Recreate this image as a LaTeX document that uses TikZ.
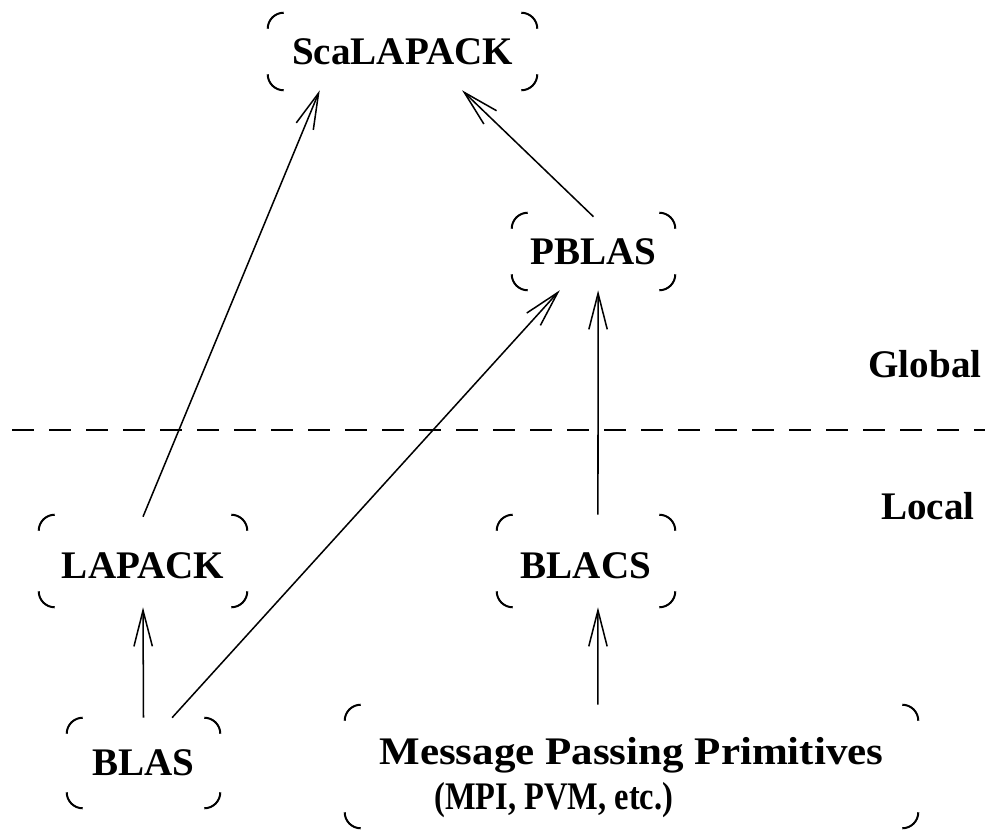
\documentclass[tikz,border=0pt]{standalone}
\usepackage{fontspec}
\setmainfont{Liberation Serif}
\usetikzlibrary{arrows.meta,calc}
\newcommand\bigfont{\fontsize{27.8pt}{33pt}\selectfont\bfseries}
\begin{document}
\begin{tikzpicture}[x=0.25mm,y=-0.25mm,
  box/.style={rectangle, inner sep=0pt, font=\bigfont},
  lbl/.style={inner sep=0pt, font=\bigfont},
  conn/.style={line width=0.38mm, -{Straight Barb[length=9mm,width=4.6mm,line width=0.38mm]}},
  corner/.style={line width=0.5mm, rounded corners=4mm},
  divider/.style={line width=0.5mm, dash pattern=on 5.5mm off 3.75mm}]
\useasboundingbox (0,0) rectangle (985,830);

\node[box, minimum width=67.25mm, minimum height=19.25mm] (sca) at (402.5,51.5) {ScaLAPACK};
\node[box, minimum width=40.75mm, minimum height=19.25mm] (pblas) at (593.5,251.5) {PBLAS};
\node[box, minimum width=52mm, minimum height=23mm] (lapack) at (143,561) {\rule{0pt}{25.4pt}LAPACK};
\node[box, minimum width=44.5mm, minimum height=23mm] (blacs) at (586,561) {\rule{0pt}{25.4pt}BLACS};
\node[box, minimum width=38.25mm, minimum height=22.5mm] (blas) at (143.5,763) {BLAS};
\node[box, minimum width=143.25mm, minimum height=30.75mm, align=left] (msg) at (631.5,766.5)
  {\rule{0pt}{35pt}\scalebox{1.1}[1]{Message Passing Primitives}\\[-1pt]\hspace*{13.75mm}\scalebox{0.83}[1]{(MPI, PVM, etc.)}};

\node[lbl] (global) at (925,364) {Global};
\node[lbl] (local) at (928,506) {Local};

\coordinate (dl) at (12,430);
\coordinate (dr) at (985,430);
\draw[divider] (dl) -- (dr);

\foreach \n in {sca,pblas,lapack,blacs,blas,msg} {
  \draw[corner] ([yshift=-4mm]\n.north west) |- ([xshift=4mm]\n.north west);
  \draw[corner] ([xshift=-4mm]\n.north east) -| ([yshift=-4mm]\n.north east);
  \draw[corner] ([yshift=4mm]\n.south west) |- ([xshift=4mm]\n.south west);
  \draw[corner] ([xshift=-4mm]\n.south east) -| ([yshift=4mm]\n.south east);
}

\draw[conn] ([yshift=-0.5mm]lapack.north) -- ($(sca.south west)!0.193!(sca.south east)$);
\draw[conn] ([yshift=-1mm]pblas.north) -- ($(sca.south west)!0.721!(sca.south east)$);
\draw[conn] ($(blas.north west)!0.686!(blas.north east)$) -- ($(pblas.south west)!0.294!(pblas.south east)$);
\draw[conn] (blas.north) -- (lapack.south);
\draw[conn] ($(blacs.north west)!0.567!(blacs.north east)$) -- ($(pblas.south west)!0.528!(pblas.south east)$);
\draw[conn] ($(msg.north west)!0.4415!(msg.north east)$) -- ($(blacs.south west)!0.567!(blacs.south east)$);
\end{tikzpicture}
\end{document}
